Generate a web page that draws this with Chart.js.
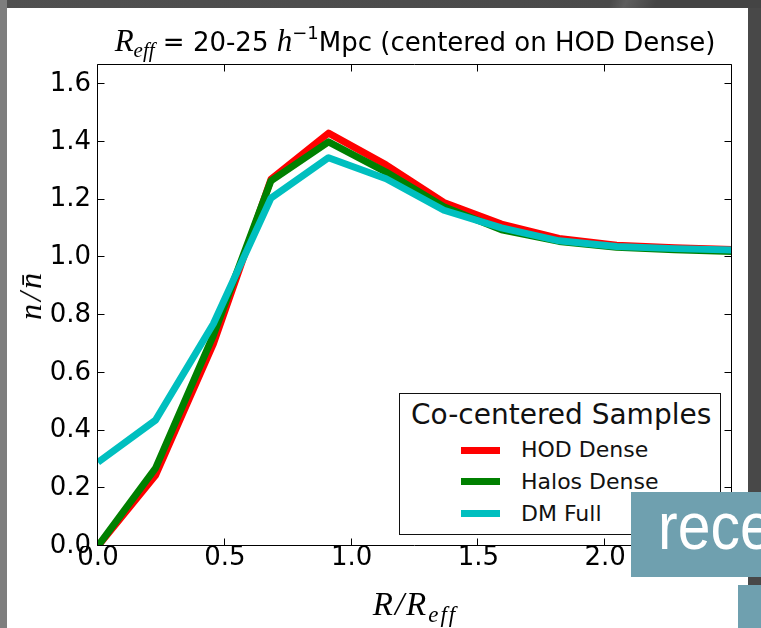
<!DOCTYPE html>
<html><head><meta charset="utf-8">
<script src="https://cdn.jsdelivr.net/npm/chart.js@4.4.1/dist/chart.umd.min.js"></script>
<style>
html,body{margin:0;padding:0;}
body{width:761px;height:628px;position:relative;overflow:hidden;background:#484848;font-family:"DejaVu Sans",sans-serif;}
.abs{position:absolute;white-space:nowrap;}
#topband{left:0;top:0;width:761px;height:8px;background:linear-gradient(110deg,#505050 0%,#4a4a4a 80%,#5e5e5e 82%,#444 86%);}
#leftstrip{left:0;top:0;width:7px;height:628px;background:#7e7e7e;}
#panel{left:7px;top:8px;width:741px;height:620px;background:#fff;}
#c{position:absolute;left:0;top:0;}
.m{font-family:"Liberation Serif",serif;font-style:italic;}
#title{left:0;top:26px;width:830px;text-align:center;font-size:26px;line-height:30px;color:#000;}
#title .m{font-size:31px;}
#title sub{font-size:21px;vertical-align:-6px;line-height:0;}
#title sup{font-size:18px;vertical-align:12px;line-height:0;}
#xlabel{left:0;top:588px;width:830px;text-align:center;font-size:33px;line-height:33px;letter-spacing:2px;}
#xlabel sub{font-size:23px;vertical-align:-7px;line-height:0;}
#ylabel{left:30px;top:295px;font-size:32px;line-height:32px;letter-spacing:3px;transform:translate(-50%,-50%) rotate(-90deg);}
#legbox{left:399px;top:393px;width:320px;height:140px;border:1px solid #111;background:#fff;}
.lt{font-size:28px;line-height:28px;color:#111;}
.li{font-size:22px;line-height:22px;color:#111;}
.ls{width:39px;height:7px;}
.teal{background:#6fa0af;}
#rece{left:631px;top:492px;width:130px;height:85px;overflow:hidden;}
#rece span{position:absolute;left:27px;top:0;font-family:"Liberation Sans",sans-serif;font-size:67px;line-height:67px;color:#fff;transform:scaleX(0.88);transform-origin:0 0;}
#teal2{left:738px;top:585px;width:23px;height:43px;}
</style></head>
<body>
<div id="topband" class="abs"></div>
<div id="leftstrip" class="abs"></div>
<div id="panel" class="abs"></div>
<canvas id="c" width="761" height="628"></canvas>
<div id="title" class="abs"><span class="m">R<sub>eff</sub></span> = 20-25 <span class="m">h</span><sup>−1</sup>Mpc (centered on HOD Dense)</div>
<div id="xlabel" class="abs m">R/R<sub>eff</sub></div>
<div id="ylabel" class="abs m">n/n̄</div>
<div id="legbox" class="abs"></div>
<div class="abs lt" style="left:411px;top:401px;">Co-centered Samples</div>
<div id="legitems"></div>
<div id="rece" class="abs teal"><span>rece</span></div>
<div id="teal2" class="abs teal"></div>
<script>
// ---- data ----
const xVals      = [0, 0.227, 0.455, 0.682, 0.909, 1.136, 1.364, 1.591, 1.818, 2.045, 2.273, 2.5];
const hodDense   = [0.00, 0.245, 0.70, 1.27, 1.43, 1.32, 1.19, 1.115, 1.065, 1.042, 1.033, 1.027];
const halosDense = [0.00, 0.27, 0.73, 1.265, 1.40, 1.295, 1.175, 1.095, 1.055, 1.035, 1.026, 1.02];
const dmFull     = [0.29, 0.436, 0.77, 1.205, 1.345, 1.272, 1.163, 1.102, 1.057, 1.037, 1.03, 1.025];
const seriesNames  = ['HOD Dense', 'Halos Dense', 'DM Full'];
const seriesColors = ['#ff0000', '#008000', '#00bfbf'];
const xTicks = [0, 0.5, 1.0, 1.5, 2.0, 2.5];
const yTicks = [0, 0.2, 0.4, 0.6, 0.8, 1.0, 1.2, 1.4, 1.6];

const seriesVals = [hodDense, halosDense, dmFull];
const datasets = seriesVals.map((vals, i) => ({
  label: seriesNames[i],
  data: xVals.map((x, j) => ({x: x, y: vals[j]})),
  borderColor: seriesColors[i],
  backgroundColor: seriesColors[i],
  borderWidth: 7,
  pointRadius: 0,
  fill: false,
  tension: 0,
  clip: 0,
  order: 3 - i
}));

// legend items (HTML)
const legRowsY = [450, 481.7, 513.3];
const li = document.getElementById('legitems');
seriesNames.forEach((n, i) => {
  const s = document.createElement('div');
  s.className = 'abs ls';
  s.style.left = '461px'; s.style.top = (legRowsY[i] - 3.5) + 'px';
  s.style.background = seriesColors[i];
  li.appendChild(s);
  const t = document.createElement('div');
  t.className = 'abs li';
  t.style.left = '521px'; t.style.top = (legRowsY[i] - 10.6) + 'px';
  t.textContent = n;
  li.appendChild(t);
});

const framePlugin = {
  id: 'frame',
  afterDatasetsDraw(chart) {
    const {ctx, chartArea: a, scales: {x, y}} = chart;
    ctx.save();
    ctx.strokeStyle = '#000';
    ctx.lineWidth = 1;
    const L = Math.round(a.left) - 0.5, R = Math.round(a.right) - 0.5;
    const T = Math.round(a.top) - 0.5, B = Math.round(a.bottom) - 0.5;
    ctx.beginPath();
    ctx.rect(L, T, R - L, B - T);
    const tl = 7;
    x.ticks.forEach(t => {
      const p = Math.round(x.getPixelForValue(t.value)) - 0.5;
      ctx.moveTo(p, B); ctx.lineTo(p, B - tl);
      ctx.moveTo(p, T); ctx.lineTo(p, T + tl);
    });
    y.ticks.forEach(t => {
      const p = Math.round(y.getPixelForValue(t.value)) - 0.5;
      ctx.moveTo(L, p); ctx.lineTo(L + tl, p);
      ctx.moveTo(R, p); ctx.lineTo(R - tl, p);
    });
    ctx.stroke();
    ctx.restore();
  }
};

const tickFont = {family: 'DejaVu Sans', size: 26};
new Chart(document.getElementById('c').getContext('2d'), {
  type: 'line',
  data: {datasets: datasets},
  options: {
    responsive: false,
    animation: false,
    devicePixelRatio: 1,
    layout: {padding: {left: 0, right: 29, top: 65, bottom: 0}},
    plugins: {legend: {display: false}, tooltip: {enabled: false}, title: {display: false}},
    elements: {line: {borderJoinStyle: 'round', borderCapStyle: 'butt'}, point: {radius: 0}},
    scales: {
      x: {
        type: 'linear', min: 0, max: 2.5,
        grid: {display: false, drawTicks: false},
        border: {display: false},
        afterBuildTicks: s => { s.ticks = xTicks.map(v => ({value: v})); },
        ticks: {color: '#000', font: tickFont, padding: -3, maxRotation: 0, autoSkip: false,
                callback: v => v.toFixed(1)},
        afterFit: s => { s.height = 82; }
      },
      y: {
        type: 'linear', min: 0, max: 1.666,
        grid: {display: false, drawTicks: false},
        border: {display: false},
        afterBuildTicks: s => { s.ticks = yTicks.map(v => ({value: v})); },
        ticks: {color: '#000', font: tickFont, padding: 7, autoSkip: false,
                callback: v => v.toFixed(1)},
        afterFit: s => { s.width = 98; }
      }
    }
  },
  plugins: [framePlugin]
});
</script>
</body></html>
